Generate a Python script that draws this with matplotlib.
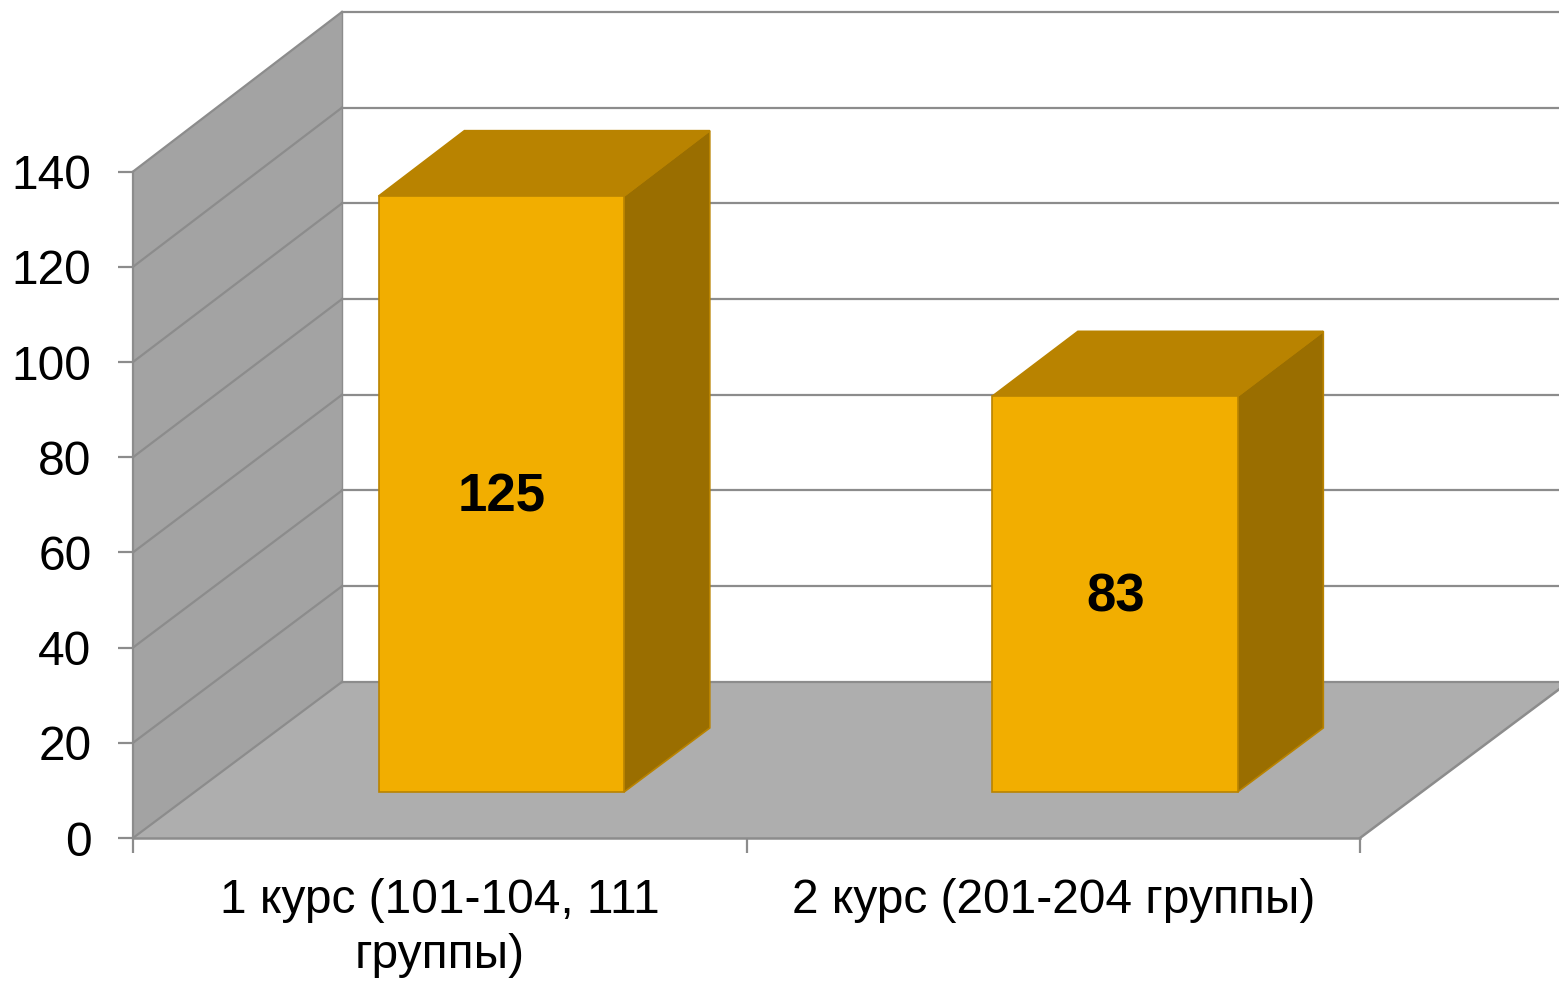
import matplotlib
matplotlib.use("Agg")
import matplotlib.pyplot as plt
from matplotlib.patches import Polygon

plt.rcParams['font.family'] = ['Liberation Sans', 'DejaVu Sans']

categories = ['1 курс (101-104, 111\nгруппы)', '2 курс (201-204 группы)']
values = [125, 83]
y_ticks = [0, 20, 40, 60, 80, 100, 120, 140]

# oblique depth: one full depth unit moves this far in data units
depth_dx = 0.3407
depth_dy = 32.8
depth_scale = 0.0054  # back wall is a touch taller than the front
bar_width = 0.4
bar_front = 0.295
bar_back = 0.705

line_col = '#8c8c8c'
wall_col = '#a3a3a3'
floor_col = '#aeaeae'
front_col = '#f2ae00'
side_col = '#9a6e00'
top_col = '#b98300'
edge_col = '#b98300'


def proj(x, y, d):
    return (x + d * depth_dx, y * (1 + d * depth_scale) + d * depth_dy)


fig = plt.figure(figsize=(15.59, 9.81), dpi=100)
ax = fig.add_axes([133 / 1559, (981 - 838) / 981, (1559 - 133) / 1559, 838 / 981])
ax.set_xlim(0, 1426 / 613.5)
ax.set_ylim(0, 838 / 4.76)

y_top = y_ticks[-1]
n_cat = len(categories)

# left wall and floor
ax.add_patch(Polygon([proj(0, 0, 0), proj(0, y_top, 0), proj(0, y_top, 1), proj(0, 0, 1)],
                     fc=wall_col, ec='none', zorder=1))
ax.add_patch(Polygon([proj(0, 0, 0), proj(n_cat, 0, 0), proj(n_cat, 0, 1), proj(0, 0, 1)],
                     fc=floor_col, ec='none', zorder=1))

# gridlines, wall part then back part
for t in y_ticks:
    x0, y0 = proj(0, t, 0)
    x1, y1 = proj(0, t, 1)
    x2, y2 = proj(n_cat, t, 1)
    ax.plot([x0, x1], [y0, y1], color=line_col, lw=1.6, zorder=2, clip_on=False)
    ax.plot([x1, x2], [y1, y2], color=line_col, lw=1.6, zorder=2)
x0, y0 = proj(0, 0, 1)
x1, y1 = proj(0, y_top, 1)
ax.plot([x0, x1], [y0, y1], color=line_col, lw=1.0, zorder=2)
x0, y0 = proj(n_cat, 0, 0)
x1, y1 = proj(n_cat, 0, 1)
ax.plot([x0, x1], [y0, y1], color=line_col, lw=1.8, zorder=2)

# bars
for i, v in enumerate(values):
    left = i + 0.5 - bar_width / 2
    right = i + 0.5 + bar_width / 2
    ax.add_patch(Polygon([proj(right, 0, bar_front), proj(right, 0, bar_back),
                          proj(right, v, bar_back), proj(right, v, bar_front)],
                         fc=side_col, ec=edge_col, lw=1.2, zorder=3))
    ax.add_patch(Polygon([proj(left, v, bar_front), proj(right, v, bar_front),
                          proj(right, v, bar_back), proj(left, v, bar_back)],
                         fc=top_col, ec=edge_col, lw=1.2, zorder=3))
    ax.add_patch(Polygon([proj(left, 0, bar_front), proj(right, 0, bar_front),
                          proj(right, v, bar_front), proj(left, v, bar_front)],
                         fc=front_col, ec=edge_col, lw=1.2, zorder=4))
    lx, ly = proj(i + 0.5, v / 2, bar_front)
    ax.annotate(str(v), (lx, ly), xytext=(0.5, -2.5), textcoords='offset points',
                ha='center', va='center', fontsize=38, fontweight='bold',
                color='black', zorder=5)

# axes
for s in ['top', 'right']:
    ax.spines[s].set_visible(False)
ax.spines['left'].set_bounds(0, y_top)
ax.spines['bottom'].set_bounds(0, n_cat)
ax.spines['left'].set_color(line_col)
ax.spines['bottom'].set_color(line_col)
ax.spines['left'].set_linewidth(1.6)
ax.spines['bottom'].set_linewidth(1.8)
ax.spines['left'].set_zorder(6)
ax.spines['bottom'].set_zorder(6)

ax.set_yticks(y_ticks)
ax.tick_params(axis='y', length=10.8, width=1.6, color=line_col, pad=19, labelsize=34.5)
ax.set_xticks(range(n_cat + 1))
ax.set_xticklabels([])
ax.tick_params(axis='x', which='major', length=10.8, width=1.6, color=line_col)
ax.set_xticks([i + 0.5 for i in range(n_cat)], minor=True)
ax.set_xticklabels(categories, minor=True, fontsize=34.5, linespacing=1.27)
ax.tick_params(axis='x', which='minor', length=0, pad=29)

fig.savefig('out.png', dpi=100)
